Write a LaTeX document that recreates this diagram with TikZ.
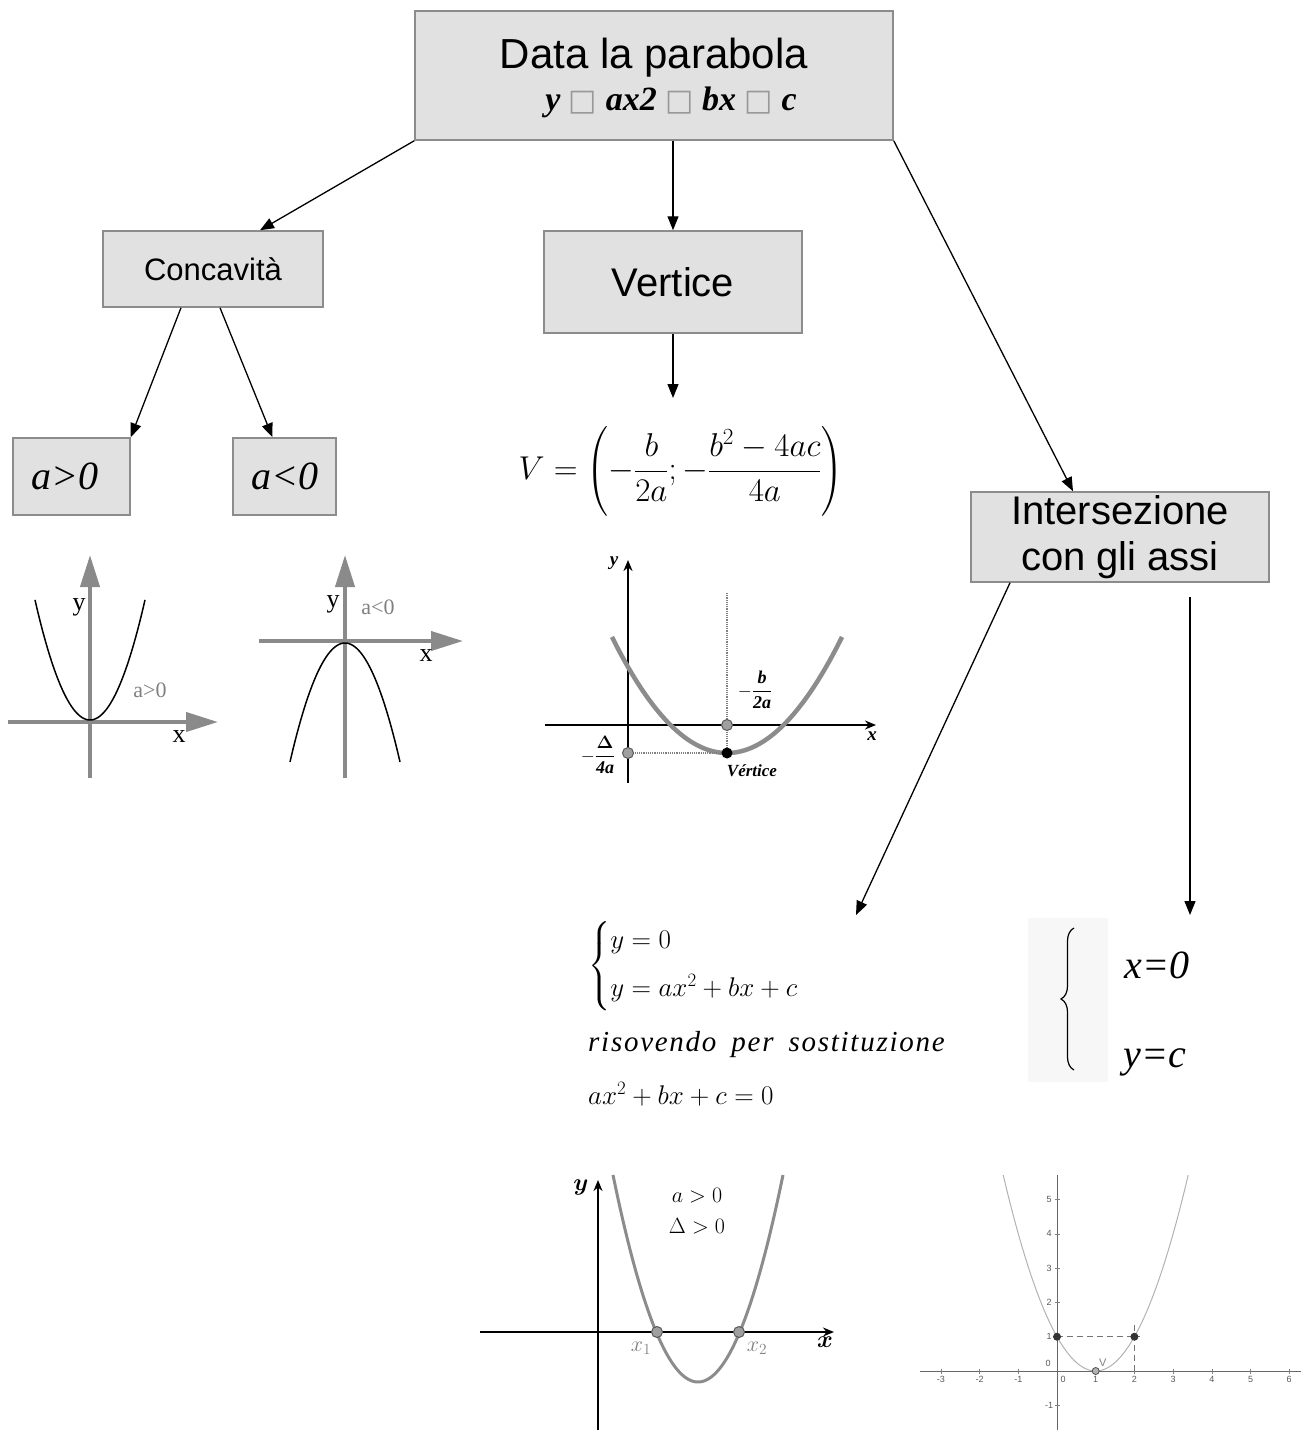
\RequirePackage{fix-cm}
\documentclass[tikz,border=0pt]{standalone}
\usepackage{amsmath}
\usepackage{fontspec}
\newfontfamily\arialf{Liberation Sans}
\newfontfamily\tnr{Liberation Serif}
\newfontfamily\dejavu{DejaVu Sans}
\usetikzlibrary{arrows.meta,calc,decorations.pathreplacing}
\newcommand\fsz[1]{\fontsize{#1}{#1}\selectfont}
\newcommand\missbox{{\dejavu\mdseries\upshape\fsz{30}\color{gray!80}□}}
\definecolor{boxfill}{RGB}{225,225,225}
\definecolor{boxline}{RGB}{140,140,140}
\definecolor{axgray}{RGB}{138,138,138}
\definecolor{curvegray}{RGB}{140,140,140}
\tikzset{
 box/.style={draw=boxline, fill=boxfill, line width=1.5pt, inner sep=0pt, rectangle},
 arr/.style={-{Triangle[width=11pt,length=14pt]}, line width=1.3pt},
 bigaxis/.style={draw=axgray, line width=4pt, -{Triangle[width=19pt,length=32pt]}},
 thinaxis/.style={draw=black, line width=2pt, -{Stealth[width=9pt,length=11pt]}},
 lbl/.style={inner sep=0pt},
 gdot/.style={circle, inner sep=0pt, minimum size=11pt, draw=black!65, fill=gray!75, line width=1pt},
 bdot/.style={circle, inner sep=0pt, minimum size=11pt, fill=black},
}
\begin{document}
\begin{tikzpicture}[x=1pt,y=-1pt]
\useasboundingbox (0,0) rectangle (1303,1432);
% ---------- boxes ----------
\node[box, minimum width=478pt, minimum height=129pt] (top) at (654,75.5) {};
\node[lbl, font=\arialf\fsz{42}] (toptitle) at (654,58) {Data la parabola};
\node[lbl, font=\tnr\bfseries\itshape\fsz{34}] (topformula) at (671,102)
 {y \missbox{} ax2 \missbox{} bx \missbox{} c};
\node[box, minimum width=220pt, minimum height=76pt, font=\arialf\fsz{31}] (conc) at (213,269) {Concavità};
\node[box, minimum width=117pt, minimum height=77pt, font=\tnr\itshape\fsz{40}] (apos) at (71.5,476.5) {a>0\hspace*{14pt}};
\node[box, minimum width=103pt, minimum height=77pt, font=\tnr\itshape\fsz{40}] (aneg) at (284.5,476.5) {a<0};
\node[box, minimum width=258pt, minimum height=102pt, font=\arialf\fsz{40}] (vert) at (673,282) {Vertice};
\node[box, minimum width=298pt, minimum height=90pt, align=center, font=\arialf\fontsize{40}{46}\selectfont] (inter) at (1120,537) {Intersezione\\con gli assi};
% ---------- connectors ----------
\draw[arr] (top.south west) -- ([xshift=47pt]conc.north);
\draw[arr] (vert.north |- top.south) -- (vert.north);
\draw[arr] (top.south east) -- ([xshift=-47pt]inter.north);
\draw[arr] ([xshift=-32pt]conc.south) -- (apos.north east);
\draw[arr] ([xshift=7pt]conc.south) -- ([xshift=-12pt]aneg.north);
\coordinate (vend) at (673,398);
\draw[arr] (vert.south) -- (vend);
\coordinate (iend1) at (856,915);
\draw[arr] ([xshift=-110pt]inter.south) -- (iend1);
\coordinate (istart2) at (1190,597);
\coordinate (iend2) at (1190,915);
\draw[arr] (istart2) -- (iend2);
% ---------- graph a>0 ----------
\draw[bigaxis] (90,778) -- (90,555);
\draw[bigaxis] (8,722) -- (218,722);
\draw[black, line width=1.5pt] plot[domain=35:145, samples=80, smooth] (\x,{720-0.0397*(\x-90)^2});
\node[lbl, font=\tnr\fsz{26}] (g1y) at (79,607) {y};
\node[lbl, font=\tnr\fsz{26}] (g1x) at (179,737) {x};
\node[lbl, font=\tnr\fsz{22}, text=gray] (g1a) at (150,690) {a>0};
% ---------- graph a<0 ----------
\draw[bigaxis] (345,778) -- (345,555);
\draw[bigaxis] (259,641) -- (463,641);
\draw[black, line width=1.5pt] plot[domain=290:400, samples=80, smooth] (\x,{643+0.0393*(\x-345)^2});
\node[lbl, font=\tnr\fsz{26}] (g2y) at (333,604) {y};
\node[lbl, font=\tnr\fsz{22}, text=gray] (g2a) at (378,607) {a<0};
\node[lbl, font=\tnr\fsz{26}] (g2x) at (426,656) {x};
% ---------- vertex formula ----------
\node[lbl, font=\fsz{33}] (vform) at (681,471) {$V=\left(-\dfrac{b}{2a};-\dfrac{b^2-4ac}{4a}\right)$};
% ---------- vertex graph ----------
\draw[thinaxis] (628,783) -- (628,560);
\draw[thinaxis] (545,725) -- (876,725);
\draw[curvegray, line width=4.5pt] plot[domain=612:842, samples=80, smooth] (\x,{753-0.00877*(\x-727)^2});
\draw[gray, densely dotted, line width=1.2pt] (727,593) -- (727,753);
\draw[gray, densely dotted, line width=1.2pt] (628,753) -- (727,753);
\node[gdot] (vd1) at (727,725) {};
\node[gdot] (vd2) at (628,753) {};
\node[bdot] (vd3) at (727,753) {};
\node[lbl, font=\tnr\bfseries\itshape\fsz{19}] (vgy) at (614,563) {y};
\node[lbl, font=\tnr\bfseries\itshape\fsz{19}] (vgx) at (872,736) {x};
\node[lbl, font=\tnr\bfseries\itshape\fsz{17}] (vglab) at (752,771) {Vértice};
\node[lbl, font=\fsz{18}] (vgb) at (755,690) {$-\dfrac{\text{\tnr\bfseries\itshape b}}{\text{\tnr\bfseries\itshape 2a}}$};
\node[lbl, font=\fsz{18}] (vgd) at (598,755) {$-\dfrac{\boldsymbol{\Delta}}{\text{\tnr\bfseries\itshape 4a}}$};
% ---------- system 1 ----------
\node[lbl, anchor=west, font=\fsz{27}] (sys1) at (588,966) {$\begin{cases} y=0\\[16pt] y=ax^2+bx+c\end{cases}$};
\node[lbl, anchor=west, font=\tnr\itshape\fsz{29}\addfontfeature{LetterSpace=6}] (risov) at (588,1045) {risovendo\hspace{6pt} per\hspace{6pt} sostituzione};
\node[lbl, anchor=west, font=\fsz{27}] (eq0) at (588,1094) {$ax^2+bx+c=0$};
% ---------- system 2 ----------
\fill[black!3] (1028,918) rectangle (1108,1082);
\draw[black, line width=1.2pt, decorate, decoration={brace, amplitude=13pt}] (1074,1070) -- (1074,928);
\node[lbl, font=\tnr\itshape\fsz{40}] (xeq) at (1157,965) {x=0};
\node[lbl, font=\tnr\itshape\fsz{40}] (yeq) at (1155,1062) {y=c};
% ---------- graph x1 x2 ----------
\draw[thinaxis] (598,1430) -- (598,1180);
\draw[thinaxis] (480,1332) -- (834,1332);
\draw[curvegray, line width=3pt] plot[domain=613:783, samples=80, smooth] (\x,{1382-0.02865*(\x-698)^2});
\node[gdot] (r1) at (657,1332) {};
\node[gdot] (r2) at (739,1332) {};
\node[lbl, font=\fsz{24}] (bly) at (581,1187) {$\boldsymbol{y}$};
\node[lbl, font=\fsz{24}] (blx) at (825,1342) {$\boldsymbol{x}$};
\node[lbl, font=\fsz{22}] (bla) at (697,1196) {$a>0$};
\node[lbl, font=\fsz{22}] (bld) at (697,1226) {$\Delta>0$};
\node[lbl, font=\fsz{22}, text=gray] (blx1) at (641,1348) {$x_1$};
\node[lbl, font=\fsz{22}, text=gray] (blx2) at (757,1348) {$x_2$};
% ---------- graph y=(x-1)^2 ----------
\begin{scope}[shift={(1057,1371)}, x=38.7pt, y=34.3pt]
\draw[black!60, line width=1pt] (-3.55,0) -- (6.3,0);
\draw[black!60, line width=1pt] (0,-1.72) -- (0,5.71);
\foreach \i in {-3,-2,-1,1,2,3,4,5,6} {
 \draw[black!50, line width=0.6pt] ([yshift=2.5pt]\i,0) -- ([yshift=-2.5pt]\i,0);
 \node[lbl, font=\arialf\fsz{9}, text=black!65] (xt\i) at ([yshift=-8pt]\i,0) {\i};
}
\foreach \j in {-1,1,2,3,4,5} {
 \draw[black!50, line width=0.6pt] ([xshift=-2.5pt]0,\j) -- ([xshift=2.5pt]0,\j);
 \node[lbl, font=\arialf\fsz{9}, text=black!65] (yt\j) at ([xshift=-8pt]0,\j) {\j};
}
\node[lbl, font=\arialf\fsz{9}, text=black!65] (o1) at ([xshift=-9pt,yshift=8pt]0,0) {0};
\node[lbl, font=\arialf\fsz{9}, text=black!65] (o2) at ([xshift=6pt,yshift=-8pt]0,0) {0};
\draw[gray!60, line width=1pt] plot[domain=-1.39:3.39, samples=80, smooth] (\x,{(\x-1)^2});
\draw[black!55, line width=1.4pt, dash pattern=on 6pt off 4pt] (0,1) -- (2.15,1);
\draw[black!55, line width=1.4pt, dash pattern=on 6pt off 4pt] (2,1.35) -- (2,0);
\node[circle, inner sep=0pt, minimum size=8pt, fill=black!80] (pa) at (0,1) {};
\node[circle, inner sep=0pt, minimum size=8pt, fill=black!80] (pb) at (2,1) {};
\node[circle, inner sep=0pt, minimum size=7pt, fill=gray!60, draw=black!70, line width=0.8pt] (pv) at (1,0) {};
\node[lbl, font=\arialf\fsz{11}, text=gray] (vlab) at ([xshift=7pt,yshift=8pt]1,0) {V};
\end{scope}
\end{tikzpicture}
\end{document}
